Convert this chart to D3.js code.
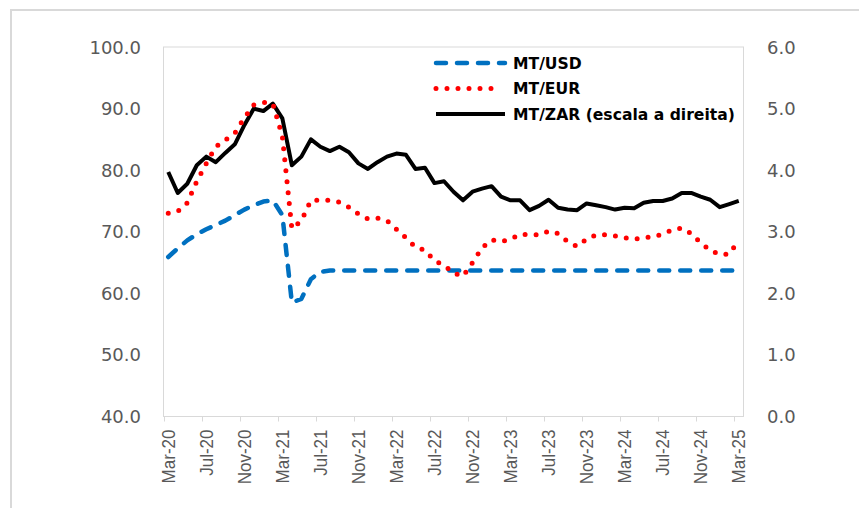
<!DOCTYPE html>
<html>
<head>
<meta charset="utf-8">
<script src="https://cdn.jsdelivr.net/npm/d3@7"></script>
<style>
  body { margin: 0; background: #fff; }
</style>
</head>
<body>
<script>
// months Mar-20 .. Mar-25
let months = d3.timeMonth.range(new Date(2020, 2, 1), new Date(2025, 3, 1));
let fmt = d3.timeFormat("%b-%y");

let usd = [65.9, 67.3, 68.6, 69.6, 70.4, 71.1, 71.8, 72.7, 73.6, 74.3,
  74.9, 75.1, 72.7, 58.5, 59.1, 62.3, 63.5, 63.7, 63.7, 63.7,
  63.7, 63.7, 63.7, 63.7, 63.7, 63.7, 63.7, 63.7, 63.7, 63.7,
  63.7, 63.7, 63.7, 63.7, 63.7, 63.7, 63.7, 63.7, 63.7, 63.7,
  63.7, 63.7, 63.7, 63.7, 63.7, 63.7, 63.7, 63.7, 63.7, 63.7,
  63.7, 63.7, 63.7, 63.7, 63.7, 63.7, 63.7, 63.7, 63.7, 63.7, 63.7];

let eur = [73.0, 73.3, 74.7, 78.2, 81.1, 83.8, 84.9, 86.0, 88.5, 90.6,
  91.0, 90.8, 85.5, 70.5, 71.8, 75.1, 75.1, 75.1, 74.8, 74.0,
  72.9, 72.1, 72.2, 71.8, 70.4, 69.0, 67.5, 67.0, 65.3, 64.6,
  63.3, 62.8, 65.0, 67.4, 68.7, 68.4, 68.8, 69.6, 69.5, 69.5,
  70.1, 69.7, 68.4, 67.6, 68.8, 69.5, 69.5, 69.3, 69.0, 68.8,
  69.0, 69.2, 69.6, 70.3, 70.6, 69.7, 68.2, 67.0, 66.3, 66.4, 68.6];

let zar = [3.97, 3.63, 3.78, 4.08, 4.22, 4.13, 4.28, 4.42, 4.73, 5.00,
  4.96, 5.08, 4.84, 4.08, 4.22, 4.50, 4.38, 4.31, 4.38, 4.29,
  4.11, 4.02, 4.13, 4.22, 4.27, 4.25, 4.02, 4.04, 3.79, 3.82,
  3.65, 3.51, 3.65, 3.70, 3.74, 3.57, 3.51, 3.51, 3.35, 3.42,
  3.52, 3.39, 3.36, 3.35, 3.46, 3.43, 3.40, 3.36, 3.39, 3.38,
  3.47, 3.50, 3.50, 3.54, 3.63, 3.63, 3.57, 3.52, 3.40, 3.45, 3.50];

let leftTicks = [40, 50, 60, 70, 80, 90, 100];
let rightTicks = [0, 1, 2, 3, 4, 5, 6];
let legendNames = ["MT/USD", "MT/EUR", "MT/ZAR (escala a direita)"];

let w = 859;
let h = 508;
let plotL = 163.5, plotR = 743.5, plotT = 47, plotB = 416.5;

let svg = d3.select("body")
            .append("svg")
            .attr("width", w)
            .attr("height", h);

// outer chart frame
svg.append("rect")
   .attr("x", 11).attr("y", 10)
   .attr("width", 860).attr("height", 510)
   .attr("fill", "#fff")
   .attr("stroke", "#d9d9d9")
   .attr("stroke-width", 2);

let x = d3.scaleBand()
          .domain(d3.range(months.length))
          .range([plotL, plotR])
          .paddingInner(0).paddingOuter(0);

let yL = d3.scaleLinear().domain([40, 100]).range([plotB, plotT]);
let yR = d3.scaleLinear().domain([0, 6]).range([plotB, plotT]);

//====plot area border====//
svg.append("rect")
   .attr("x", plotL).attr("y", plotT)
   .attr("width", plotR - plotL).attr("height", plotB - plotT)
   .attr("fill", "none")
   .attr("stroke", "#d9d9d9")
   .attr("stroke-width", 1);

// x ticks every 4 months, at the left edge of the month
let tickIdx = d3.range(0, months.length, 4);

svg.selectAll("line.xtick")
   .data(tickIdx)
   .enter()
   .append("line")
   .attr("class", "xtick")
   .attr("x1", function(d){ return Math.round(x(d)) + 0.5; })
   .attr("x2", function(d){ return Math.round(x(d)) + 0.5; })
   .attr("y1", plotB)
   .attr("y2", plotB + 5)
   .attr("stroke", "#d9d9d9")
   .attr("stroke-width", 1);

svg.selectAll("text.xlab")
   .data(tickIdx)
   .enter()
   .append("text")
   .attr("class", "xlab")
   .text(function(d){ return fmt(months[d]); })
   .attr("transform", function(d){
     return "translate(" + (x(d) + x.bandwidth() / 2 + 6.5) + "," + (plotB + 13) + ") rotate(-90) scale(0.92,1)";
   })
   .attr("text-anchor", "end")
   .attr("font-family", "Liberation Sans, Arial, sans-serif")
   .attr("font-size", "18.5px")
   .attr("fill", "#595959");

// y axis labels
svg.selectAll("text.yl")
   .data(leftTicks)
   .enter()
   .append("text")
   .attr("class", "yl")
   .text(function(d){ return d.toFixed(1); })
   .attr("x", 141)
   .attr("y", function(d){ return yL(d) + 6.5; })
   .attr("text-anchor", "end")
   .attr("font-family", "DejaVu Sans, Verdana, sans-serif")
   .attr("font-size", "18px")
   .attr("fill", "#595959");

svg.selectAll("text.yr")
   .data(rightTicks)
   .enter()
   .append("text")
   .attr("class", "yr")
   .text(function(d){ return d.toFixed(1); })
   .attr("x", 767)
   .attr("y", function(d){ return yR(d) + 6.5; })
   .attr("text-anchor", "start")
   .attr("font-family", "DejaVu Sans, Verdana, sans-serif")
   .attr("font-size", "18px")
   .attr("fill", "#595959");

let cx = function(d, i){ return x(i) + x.bandwidth() / 2; };

let lineL = d3.line().x(cx).y(function(d){ return yL(d); });
let lineR = d3.line().x(cx).y(function(d){ return yR(d); });

let styles = [
  { color: "#0070C0", dash: "10,11", width: 4.5 },
  { color: "#FF0000", dash: "0,11", width: 5 },
  { color: "#000000", dash: null, width: 4 }
];

svg.append("path")
   .datum(zar)
   .attr("d", lineR)
   .attr("fill", "none")
   .attr("stroke", styles[2].color)
   .attr("stroke-width", styles[2].width)
   .attr("stroke-linejoin", "round");

svg.append("path")
   .datum(usd)
   .attr("d", lineL)
   .attr("fill", "none")
   .attr("stroke", styles[0].color)
   .attr("stroke-width", styles[0].width)
   .attr("stroke-dasharray", styles[0].dash)
   .attr("stroke-linecap", "round")
   .attr("stroke-linejoin", "round");

svg.append("path")
   .datum(eur)
   .attr("d", lineL)
   .attr("fill", "none")
   .attr("stroke", styles[1].color)
   .attr("stroke-width", styles[1].width)
   .attr("stroke-dasharray", styles[1].dash)
   .attr("stroke-linecap", "round");

//====legend====//
let lg = svg.append("g");

lg.selectAll("line")
  .data(legendNames)
  .enter()
  .append("line")
  .attr("x1", 436)
  .attr("x2", function(d, i){ return i == 1 ? 493 : 505; })
  .attr("y1", function(d, i){ return 63 + i * 25.5; })
  .attr("y2", function(d, i){ return 63 + i * 25.5; })
  .attr("stroke", function(d, i){ return styles[i].color; })
  .attr("stroke-width", function(d, i){ return styles[i].width; })
  .attr("stroke-dasharray", function(d, i){ return styles[i].dash; })
  .attr("stroke-linecap", function(d, i){ return i == 2 ? "butt" : "round"; });

lg.selectAll("text")
  .data(legendNames)
  .enter()
  .append("text")
  .text(function(d){ return d; })
  .attr("x", 513)
  .attr("y", function(d, i){ return 63 + i * 25.5 + 5.5; })
  .attr("font-family", "DejaVu Sans, Verdana, sans-serif")
  .attr("font-weight", "bold")
  .attr("font-size", "15.6px")
  .attr("fill", "#000");
</script>
</body>
</html>
